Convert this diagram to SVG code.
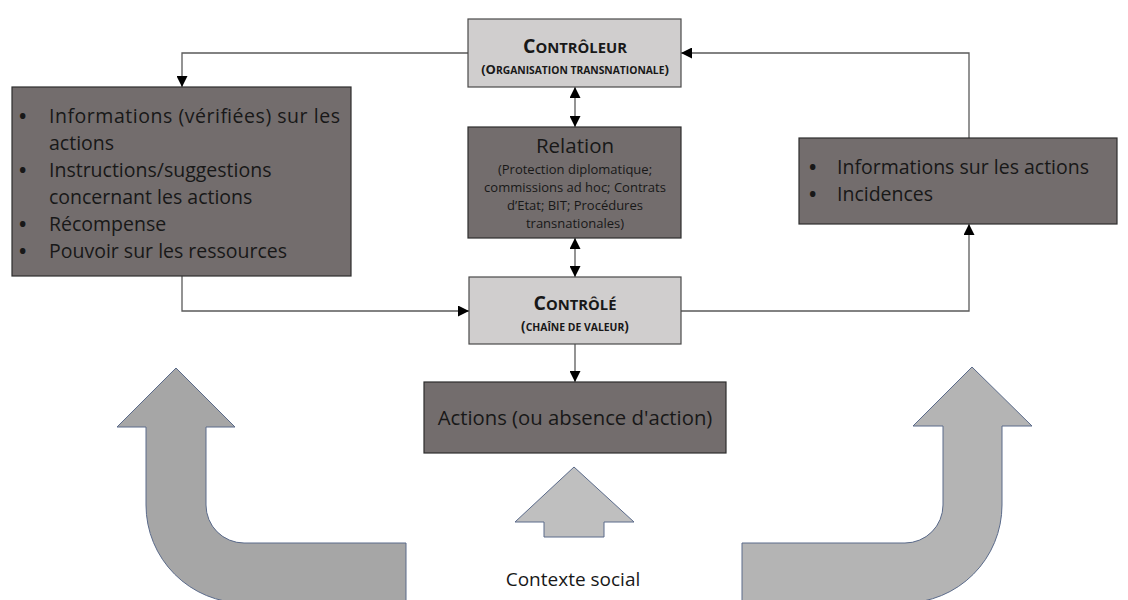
<svg xmlns="http://www.w3.org/2000/svg" width="1128" height="600" viewBox="0 0 1128 600">
<defs>
<marker id="ah" viewBox="0 0 10 10" refX="10" refY="5" markerWidth="11" markerHeight="11" markerUnits="userSpaceOnUse" orient="auto-start-reverse">
<path d="M0,0 L10,5 L0,10 z" fill="#000"/>
</marker>
<style>
.dark{fill:#736d6d;stroke:#2e2e2e;stroke-width:1.2}
.light{fill:#d0cece;stroke:#4a4a4a;stroke-width:1.2}
.big{stroke:#5a6a8a;stroke-width:1}
.t{font-family:"Open Sans","Liberation Sans",sans-serif;fill:#181818}
.c{text-anchor:middle}
.conn{fill:none;stroke:#5a5a5a;stroke-width:1.3}
</style>
</defs>
<rect width="1128" height="600" fill="#fff"/>

<g id="arrow-left">
<path class="big" fill="#a6a6a6" d="M176,368 L235,427 L206,427 L206,505 A38,38 0 0 0 244,543 L406,543 L406,603 L244,603 A98,98 0 0 1 146,505 L146,427 L117,427 Z"/>
</g>
<g id="arrow-right">
<path class="big" fill="#b4b4b4" d="M972,367 L1032,426 L1002,426 L1002,505 A98,98 0 0 1 904,603 L742,603 L742,543 L905,543 A38,38 0 0 0 943,505 L943,426 L913,426 Z"/>
</g>
<g id="arrow-middle">
<path class="big" fill="#bfbfbf" d="M574,467 L634,522 L604,522 L604,537 L544,537 L544,522 L515,522 Z"/>
</g>
<g id="contexte">
<text class="t c" x="573" y="586" font-size="19">Contexte social</text>
</g>

<g id="connectors">
<polyline class="conn" points="468,53 182,53 182,87" marker-end="url(#ah)"/>
<polyline class="conn" points="969,138 969,53 681,53" marker-end="url(#ah)"/>
<line class="conn" x1="575" y1="87" x2="575" y2="127" marker-start="url(#ah)" marker-end="url(#ah)"/>
<line class="conn" x1="575" y1="238" x2="575" y2="277" marker-start="url(#ah)" marker-end="url(#ah)"/>
<polyline class="conn" points="182,276 182,311 469,311" marker-end="url(#ah)"/>
<polyline class="conn" points="681,311 969,311 969,224" marker-end="url(#ah)"/>
<line class="conn" x1="575" y1="344" x2="575" y2="382" marker-end="url(#ah)"/>
</g>

<g id="controleur">
<rect class="light" x="468" y="19" width="213" height="68"/>
<text class="t c" x="575" y="53" font-weight="bold"><tspan font-size="19.5">C</tspan><tspan font-size="14.8">ONTRÔLEUR</tspan></text>
<text class="t c" x="575" y="74" font-weight="bold"><tspan font-size="13">(O</tspan><tspan font-size="10.3">RGANISATION TRANSNATIONALE</tspan><tspan font-size="13">)</tspan></text>
</g>

<g id="relation">
<rect class="dark" x="468" y="127" width="213" height="111"/>
<text class="t c" x="575" y="153" font-size="20.5">Relation</text>
<text class="t c" x="575" y="174" font-size="13">(Protection diplomatique;</text>
<text class="t c" x="575" y="192" font-size="13">commissions ad hoc; Contrats</text>
<text class="t c" x="575" y="210" font-size="13">d’Etat; BIT; Procédures</text>
<text class="t c" x="575" y="228" font-size="13">transnationales)</text>
</g>

<g id="controle">
<rect class="light" x="469" y="277" width="212" height="67"/>
<text class="t c" x="575" y="310" font-weight="bold"><tspan font-size="19.5">C</tspan><tspan font-size="14.8">ONTRÔLÉ</tspan></text>
<text class="t c" x="575" y="331" font-weight="bold"><tspan font-size="13.4">(</tspan><tspan font-size="10.4">CHAÎNE DE VALEUR</tspan><tspan font-size="13.4">)</tspan></text>
</g>

<g id="actions">
<rect class="dark" x="424" y="382" width="302" height="71"/>
<text class="t c" x="575" y="425" font-size="20.3">Actions (ou absence d'action)</text>
</g>

<g id="left-box">
<rect class="dark" x="12" y="87" width="339" height="189"/>
<g class="t" font-size="19.5">
<text x="19" y="123" font-weight="bold">•</text>
<text x="49" y="123" textLength="291" lengthAdjust="spacing">Informations (vérifiées) sur les</text>
<text x="49" y="150">actions</text>
<text x="19" y="177" font-weight="bold">•</text>
<text x="49" y="177">Instructions/suggestions</text>
<text x="49" y="204">concernant les actions</text>
<text x="19" y="231" font-weight="bold">•</text>
<text x="49" y="231">Récompense</text>
<text x="19" y="258" font-weight="bold">•</text>
<text x="49" y="258">Pouvoir sur les ressources</text>
</g>
</g>

<g id="right-box">
<rect class="dark" x="799" y="138" width="318" height="86"/>
<g class="t" font-size="19.5">
<text x="809" y="174" font-weight="bold">•</text>
<text x="837" y="174">Informations sur les actions</text>
<text x="809" y="201" font-weight="bold">•</text>
<text x="837" y="201">Incidences</text>
</g>
</g>
</svg>
